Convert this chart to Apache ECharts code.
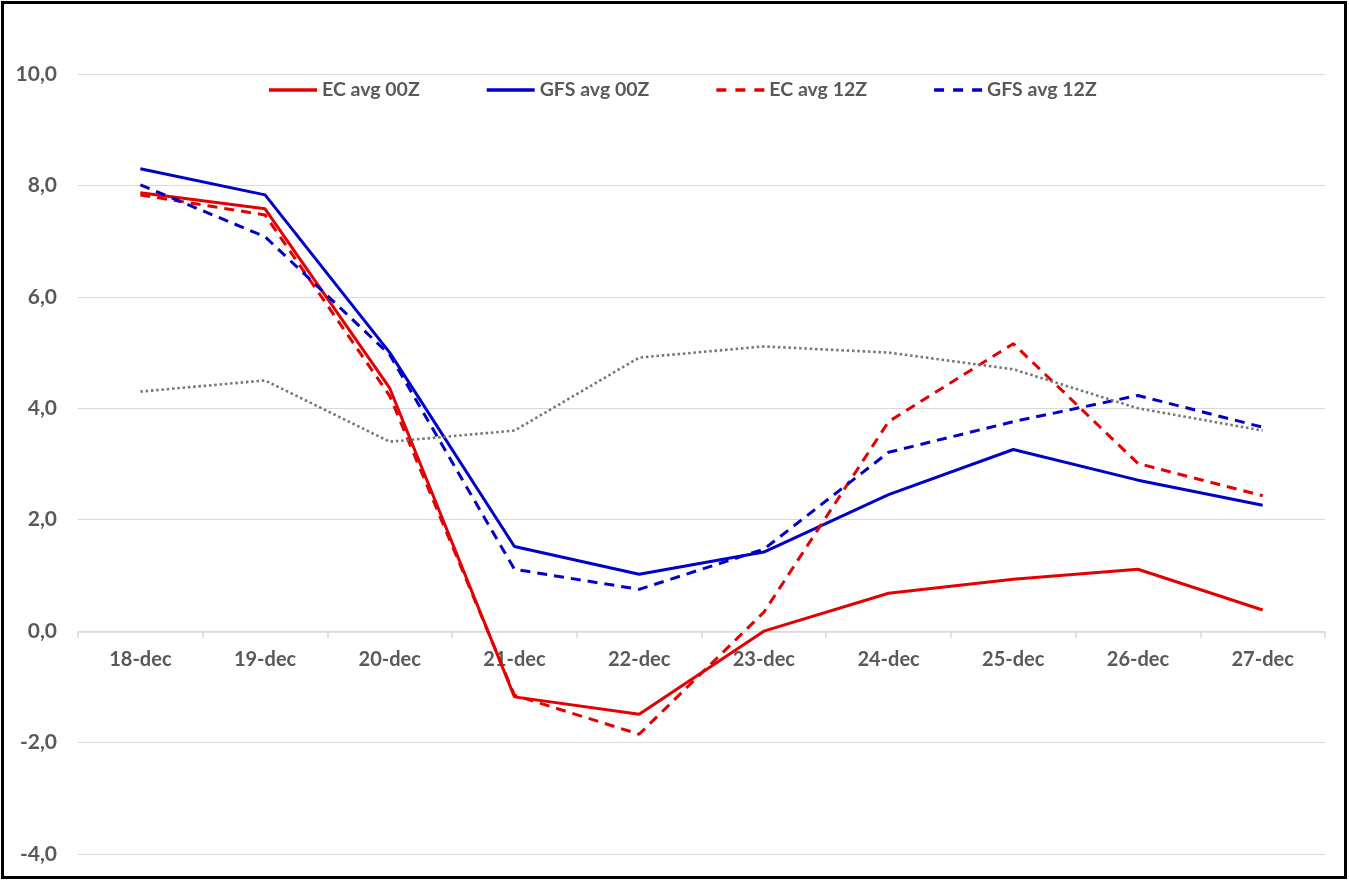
<!DOCTYPE html>
<html>
<head>
<meta charset="utf-8">
<title>EC / GFS avg</title>
<script src="https://cdn.jsdelivr.net/npm/echarts@6/dist/echarts.min.js"></script>
<style>
  html, body { margin: 0; padding: 0; background: #fff; }
  #chart { position: absolute; left: 0; top: 0; width: 1349px; height: 880px; }
  #frame {
    position: absolute; left: 1px; top: 1px; width: 1346px; height: 878px;
    box-sizing: border-box; border: 3px solid #000; pointer-events: none;
  }
</style>
</head>
<body>
<div id="chart"></div>
<div id="frame"></div>
<script>
const days = ['18-dec', '19-dec', '20-dec', '21-dec', '22-dec', '23-dec', '24-dec', '25-dec', '26-dec', '27-dec']

// values
const ecAvg00 = [7.87, 7.58, 4.36, -1.18, -1.49, 0.0, 0.68, 0.93, 1.11, 0.38]
const gfsAvg00 = [8.30, 7.83, 5.0, 1.52, 1.02, 1.42, 2.45, 3.26, 2.71, 2.26]
const ecAvg12 = [7.83, 7.47, 4.22, -1.15, -1.85, 0.34, 3.76, 5.16, 3.01, 2.43]
const gfsAvg12 = [8.01, 7.08, 4.96, 1.11, 0.75, 1.47, 3.21, 3.76, 4.23, 3.66]
const reference = [4.3, 4.5, 3.4, 3.6, 4.91, 5.11, 5.0, 4.7, 4.0, 3.6]

const RED = '#e40000'
const BLUE = '#0000c8'
const GREY = '#767676'
const TEXT = '#595959'
const FONT = 'Lato, "Noto Sans", sans-serif'

const SOLID_ICON = 'path://M0,0 L48,0 L48,3.5 L0,3.5 Z'
const DASH_ICON = 'path://M0,0 L10,0 L10,3.5 L0,3.5 Z M19,0 L29,0 L29,3.5 L19,3.5 Z M38,0 L48,0 L48,3.5 L38,3.5 Z'

const chart = echarts.init(document.getElementById('chart'))

const line = (name, data, color, type, width) => ({
  name,
  type: 'line',
  data,
  symbol: 'none',
  smooth: false,
  lineStyle: { color, width, type },
  itemStyle: { color },
  emphasis: { disabled: true },
  z: 2,
})

chart.setOption({
  animation: false,
  textStyle: { fontFamily: FONT },
  legend: {
    data: [
      { name: 'EC avg 00Z', icon: SOLID_ICON },
      { name: 'GFS avg 00Z', icon: SOLID_ICON },
      { name: 'EC avg 12Z', icon: DASH_ICON },
      { name: 'GFS avg 12Z', icon: DASH_ICON },
    ],
    top: 75,
    left: 264,
    itemWidth: 48,
    itemHeight: 3.5,
    itemGap: 67,
    textStyle: { color: TEXT, fontSize: 19.5, fontWeight: 'bold', fontFamily: FONT },
  },
  grid: { left: 78, right: 24, top: 74, bottom: 26, containLabel: false, outerBoundsMode: 'none' },
  xAxis: {
    type: 'category',
    data: days,
    boundaryGap: true,
    position: 'bottom',
    offset: -222,
    axisLine: { onZero: false, lineStyle: { color: '#d9d9d9', width: 1.5 } },
    axisTick: { show: true, length: 6, lineStyle: { color: '#d9d9d9', width: 1.5 } },
    axisLabel: { color: TEXT, fontSize: 20, fontWeight: 'bold', margin: 18 },
  },
  yAxis: {
    type: 'value',
    min: -4,
    max: 10,
    interval: 2,
    axisLine: { show: false },
    axisTick: { show: false },
    splitLine: { lineStyle: { color: '#d9d9d9', width: 1.2 } },
    axisLabel: {
      color: TEXT,
      fontSize: 21,
      fontWeight: 'bold',
      margin: 21,
      formatter: v => v.toFixed(1).replace('.', ','),
    },
  },
  series: [
    line('EC avg 00Z', ecAvg00, RED, 'solid', 3),
    line('GFS avg 00Z', gfsAvg00, BLUE, 'solid', 3),
    line('EC avg 12Z', ecAvg12, RED, [10, 7], 3),
    line('GFS avg 12Z', gfsAvg12, BLUE, [10, 7], 3),
    line('reference', reference, GREY, [2.5, 2.8], 2.6),
  ],
})
</script>
</body>
</html>
